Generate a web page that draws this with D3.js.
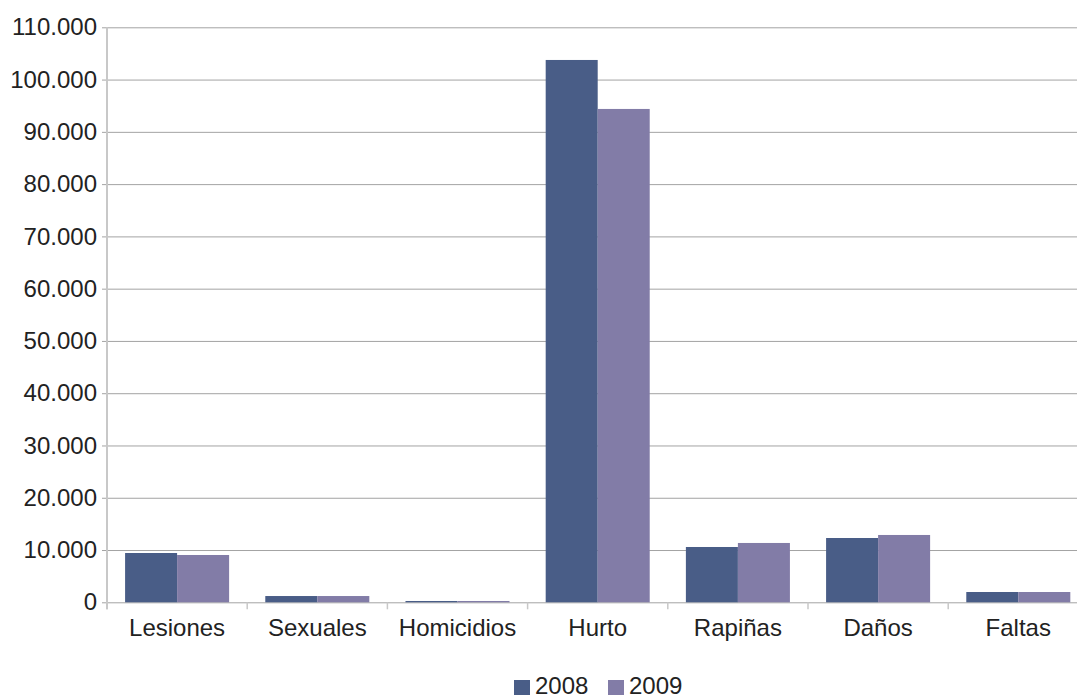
<!DOCTYPE html>
<html><head><meta charset="utf-8">
<script src="https://cdn.jsdelivr.net/npm/d3@7"></script>
<style>
html,body{margin:0;padding:0;background:#fff;overflow:hidden;}
text{font-family:"Liberation Sans",Arial,sans-serif;fill:#222;}
</style></head>
<body>
<svg id="chart" width="1077" height="698"></svg>
<script>
const categories = ["Lesiones","Sexuales","Homicidios","Hurto","Rapiñas","Daños","Faltas"];
const seriesNames = ["2008","2009"];
const values2008 = [9430, 1200, 250, 103750, 10580, 12300, 1970];
const values2009 = [9050, 1200, 250, 94380, 11350, 12880, 1970];
const yTicks = [0,10000,20000,30000,40000,50000,60000,70000,80000,90000,100000,110000];
const colors = ["#495d87","#827ca7"];

const svg = d3.select("#chart");
const plotLeft = 107, plotRight = 1088.4, plotTop = 27.3, plotBottom = 602.3;

const y = d3.scaleLinear().domain([0,110000]).range([plotBottom, plotTop]);
const x0 = d3.scaleBand().domain(categories).range([plotLeft, plotRight]).paddingInner(0.258).paddingOuter(0.129);
const x1 = d3.scaleBand().domain(seriesNames).range([0, x0.bandwidth()]);
const color = d3.scaleOrdinal().domain(seriesNames).range(colors);
const fmt = v => d3.format(",")(v).replace(/,/g, ".");

// gridlines + y labels
const yAxis = d3.axisLeft(y).tickValues(yTicks).tickSize(-(plotRight - plotLeft)).tickSizeOuter(0).tickPadding(10).tickFormat(fmt);
const gy = svg.append("g").attr("transform", `translate(${plotLeft},0)`).call(yAxis);
gy.select(".domain").remove();
gy.selectAll(".tick line").attr("stroke", "#a3a3a3").attr("stroke-width", 1).attr("x1", -5);
gy.selectAll(".tick text").attr("font-size", 24).attr("x", -10).style("font-family", '"Liberation Sans",Arial,sans-serif').attr("fill", "#222");

// category ticks (band boundaries)
const step = x0.step();
const bounds = d3.range(categories.length + 1).map(i => plotLeft + i * step);
svg.append("g").selectAll("line").data(bounds).join("line")
  .attr("x1", d => d).attr("x2", d => d).attr("y1", plotBottom).attr("y2", plotBottom + 7)
  .attr("stroke", "#c8c8c8").attr("stroke-width", 1.5);

// y axis line
svg.append("line").attr("x1", plotLeft).attr("x2", plotLeft).attr("y1", plotTop).attr("y2", plotBottom + 7)
  .attr("stroke", "#c8c8c8").attr("stroke-width", 2);

// bars
const data = categories.map((c, i) => ({cat: c, vals: [{s: "2008", v: values2008[i]}, {s: "2009", v: values2009[i]}]}));
const groups = svg.append("g").selectAll("g").data(data).join("g")
  .attr("transform", d => `translate(${x0(d.cat)},0)`);
groups.selectAll("rect").data(d => d.vals).join("rect")
  .attr("x", d => x1(d.s)).attr("width", x1.bandwidth())
  .attr("y", d => y(d.v)).attr("height", d => y(0) - y(d.v))
  .attr("fill", d => color(d.s));

// x labels
svg.append("g").selectAll("text").data(categories).join("text")
  .attr("x", d => x0(d) + x0.bandwidth() / 2).attr("y", 636)
  .attr("text-anchor", "middle").attr("font-size", 24).text(d => d);

// legend
const legendX = [514, 608];
const lg = svg.append("g").selectAll("g").data(seriesNames).join("g")
  .attr("transform", (d, i) => `translate(${legendX[i]},0)`);
lg.append("rect").attr("x", 0).attr("y", 680).attr("width", 16).attr("height", 15).attr("fill", d => color(d));
lg.append("text").attr("x", 21).attr("y", 694).attr("font-size", 24).text(d => d);
</script>
</body></html>
